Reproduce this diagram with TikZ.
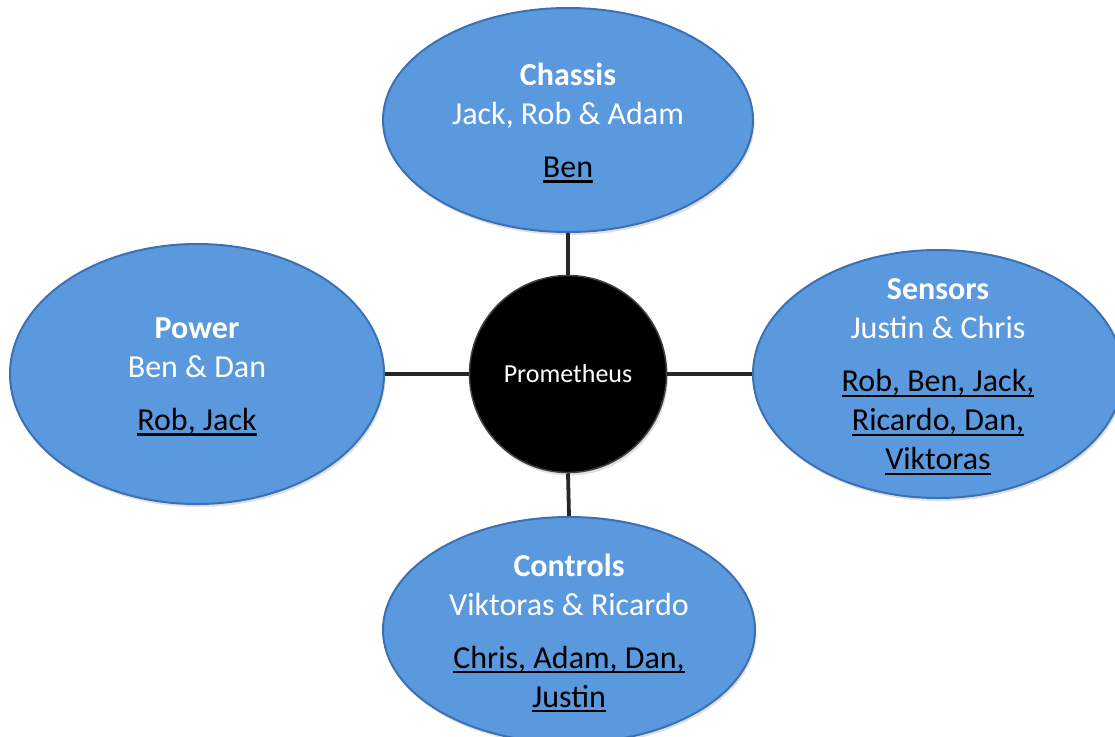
\documentclass[tikz,border=0pt]{standalone}
\usepackage{fontspec}
\setmainfont{Carlito}
\usetikzlibrary{%
	shapes.geometric,%
	shadows
}

\definecolor{bubbleblue}{RGB}{91,153,222}
\definecolor{bubblerim}{RGB}{60,112,180}
\definecolor{spokegray}{RGB}{38,38,38}

% underlined member name
\newcommand{\membername}[1]{\setbox0\hbox{#1}\rlap{\rule[-5pt]{\wd0}{2.4pt}}\box0}

\begin{document}
\begin{tikzpicture}[x=1pt,y=-1pt,
	bubble/.style={ellipse, fill=bubbleblue, draw=bubblerim, line width=2pt, inner sep=0pt,
		drop shadow={opacity=0.25, shadow xshift=1.5pt, shadow yshift=-3pt}},
	bubbletext/.style={align=center, text=white, inner sep=0pt, yshift=-3pt, font=\fontsize{32}{39}\selectfont},
	spoke/.style={draw=spokegray, line width=3.8pt}]
	\useasboundingbox (0,0) rectangle (1115,736);
	\clip (0,0) rectangle (1115,736);

		% Nodes
		\node[bubble, minimum width=370pt, minimum height=224pt] (chassis) at (568,120) {};
		\node[bubble, minimum width=374pt, minimum height=260pt] (power) at (197,374) {};
		\node[bubble, minimum width=370pt, minimum height=248pt] (sensors) at (938,374) {};
		\node[bubble, minimum width=372pt, minimum height=226pt] (controls) at (569,630) {};
		\node[circle, fill=black, draw=black!75, line width=1.5pt, minimum size=197pt,
			drop shadow={opacity=0.25, shadow xshift=1.5pt, shadow yshift=-3pt}] (hub) at (568,374) {};

		% Texts
		\node[bubbletext] (chassistext) at (chassis) {\textbf{Chassis}\\Jack, Rob \& Adam\\[14pt]\color{black}\membername{Ben}};
		\node[bubbletext] (powertext) at (power) {\textbf{Power}\\Ben \& Dan\\[14pt]\color{black}\membername{Rob, Jack}};
		\node[bubbletext] (sensorstext) at (sensors) {\textbf{Sensors}\\Justin \& Chris\\[14pt]\color{black}\membername{Rob, Ben, Jack,}\\\color{black}\membername{Ricardo, Dan,}\\\color{black}\membername{Viktoras}};
		\node[bubbletext] (controlstext) at (controls) {\textbf{Controls}\\Viktoras \& Ricardo\\[14pt]\color{black}\membername{Chris, Adam, Dan,}\\\color{black}\membername{Justin}};
		\node[text=white, font=\fontsize{26}{31}\selectfont] (hubtext) at (hub) {Prometheus};

		% Spokes
		\draw[spoke] (chassis.south) -- (hub.north);
		\draw[spoke] (hub.south) -- (controls.north);
		\draw[spoke] (power.east) -- (hub.west);
		\draw[spoke] (hub.east) -- (sensors.west);
	\end{tikzpicture}
\end{document}
